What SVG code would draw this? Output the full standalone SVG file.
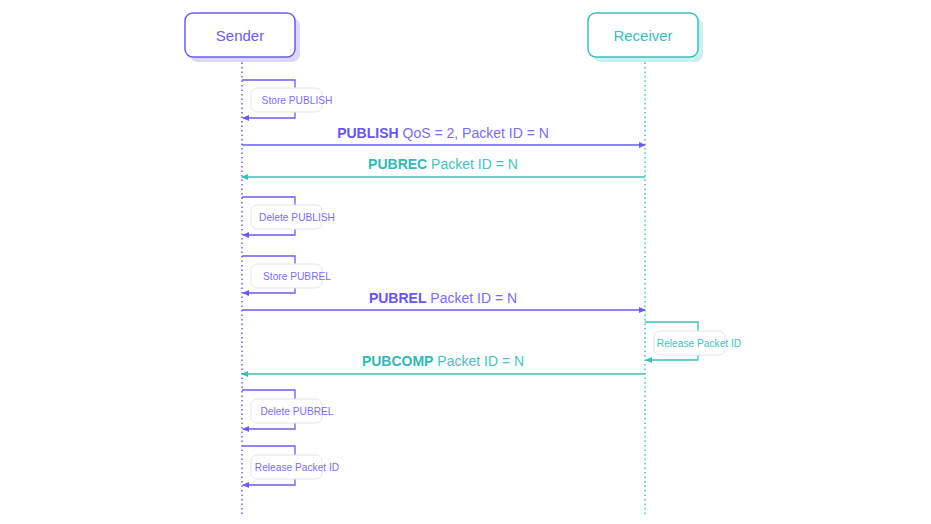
<svg xmlns="http://www.w3.org/2000/svg" width="931" height="524" viewBox="0 0 931 524">
<style>
text{font-family:"Liberation Sans",Arial,sans-serif}
.p{stroke:#6b5cf0;fill:none;stroke-width:1.3}
.t{stroke:#3cbfbd;fill:none;stroke-width:1.3}
.life-p{stroke:#6b5cf0;stroke-width:1.5;stroke-dasharray:1.5 3}
.life-t{stroke:#3cbfbd;stroke-width:1.5;stroke-dasharray:1.5 3}
.lbl{fill:#fff;stroke:#e6e6ea;stroke-width:1}
.lt-p{fill:#7b6ef2;font-size:10.2px}
.lt-t{fill:#45c3c1;font-size:10.2px}
.mp{fill:#7a6df2;font-size:14px}
.mt{fill:#45c3c1;font-size:14px}
.bp{font-weight:bold;fill:#6656ee}
.bt{font-weight:bold;fill:#33b8b6}
</style>
<defs>
<marker id="ap" viewBox="0 0 8 8" refX="7" refY="4" markerWidth="7" markerHeight="7" markerUnits="userSpaceOnUse" orient="auto"><path d="M0,0.5 L8,4 L0,7.5 z" fill="#6b5cf0"/></marker>
<marker id="at" viewBox="0 0 8 8" refX="7" refY="4" markerWidth="7" markerHeight="7" markerUnits="userSpaceOnUse" orient="auto"><path d="M0,0.5 L8,4 L0,7.5 z" fill="#3cbfbd"/></marker>
</defs>
<rect width="931" height="524" fill="#fff"/>
<g id="lifelines">
<line class="life-p" x1="242" y1="58" x2="242" y2="515"/>
<line class="life-t" x1="645" y1="58" x2="645" y2="515"/>
</g>
<g id="sender">
<rect x="190" y="18" width="110" height="44" rx="8" fill="#dcd8fb"/>
<rect x="185" y="13" width="110" height="44" rx="8" fill="#fff" stroke="#6b5cf0" stroke-width="1.5"/>
<text x="240" y="41" text-anchor="middle" font-size="15" fill="#6b5cf0">Sender</text>
</g>
<g id="receiver">
<rect x="593" y="18" width="110" height="44" rx="8" fill="#c9f1ef"/>
<rect x="588" y="13" width="110" height="44" rx="8" fill="#fff" stroke="#3cbfbd" stroke-width="1.5"/>
<text x="643" y="41" text-anchor="middle" font-size="15" fill="#3cbfbd">Receiver</text>
</g>
<g id="connectors">
<path class="p" d="M242,80 H295 V118 H243" marker-end="url(#ap)"/>
<line class="p" x1="242" y1="145" x2="645" y2="145" marker-end="url(#ap)"/>
<line class="t" x1="645" y1="177" x2="242" y2="177" marker-end="url(#at)"/>
<path class="p" d="M242,197 H295 V235 H243" marker-end="url(#ap)"/>
<path class="p" d="M242,256 H295 V293 H243" marker-end="url(#ap)"/>
<line class="p" x1="242" y1="310" x2="645" y2="310" marker-end="url(#ap)"/>
<path class="t" d="M645,322 H698 V360 H646" marker-end="url(#at)"/>
<line class="t" x1="645" y1="374" x2="242" y2="374" marker-end="url(#at)"/>
<path class="p" d="M242,390 H295 V429 H243" marker-end="url(#ap)"/>
<path class="p" d="M242,446 H295 V485 H243" marker-end="url(#ap)"/>
</g>
<g id="msg-publish"><text class="mp" x="443" y="138" text-anchor="middle"><tspan class="bp">PUBLISH</tspan> QoS = 2, Packet ID = N</text></g>
<g id="msg-pubrec"><text class="mt" x="443" y="169" text-anchor="middle"><tspan class="bt">PUBREC</tspan> Packet ID = N</text></g>
<g id="msg-pubrel"><text class="mp" x="443" y="303" text-anchor="middle"><tspan class="bp">PUBREL</tspan> Packet ID = N</text></g>
<g id="msg-pubcomp"><text class="mt" x="443" y="366" text-anchor="middle"><tspan class="bt">PUBCOMP</tspan> Packet ID = N</text></g>
<g id="store-publish"><rect class="lbl" x="251" y="88" width="71" height="24" rx="6"/><text class="lt-p" x="297" y="104" text-anchor="middle">Store PUBLISH</text></g>
<g id="delete-publish"><rect class="lbl" x="251" y="205" width="71" height="24" rx="6"/><text class="lt-p" x="297" y="221" text-anchor="middle">Delete PUBLISH</text></g>
<g id="store-pubrel"><rect class="lbl" x="251" y="264" width="71" height="24" rx="6"/><text class="lt-p" x="297" y="280" text-anchor="middle">Store PUBREL</text></g>
<g id="release-receiver"><rect class="lbl" x="654" y="331" width="71" height="24" rx="6"/><text class="lt-t" x="699" y="347" text-anchor="middle">Release Packet ID</text></g>
<g id="delete-pubrel"><rect class="lbl" x="251" y="399" width="71" height="24" rx="6"/><text class="lt-p" x="297" y="415" text-anchor="middle">Delete PUBREL</text></g>
<g id="release-sender"><rect class="lbl" x="251" y="455" width="71" height="24" rx="6"/><text class="lt-p" x="297" y="471" text-anchor="middle">Release Packet ID</text></g>
</svg>
